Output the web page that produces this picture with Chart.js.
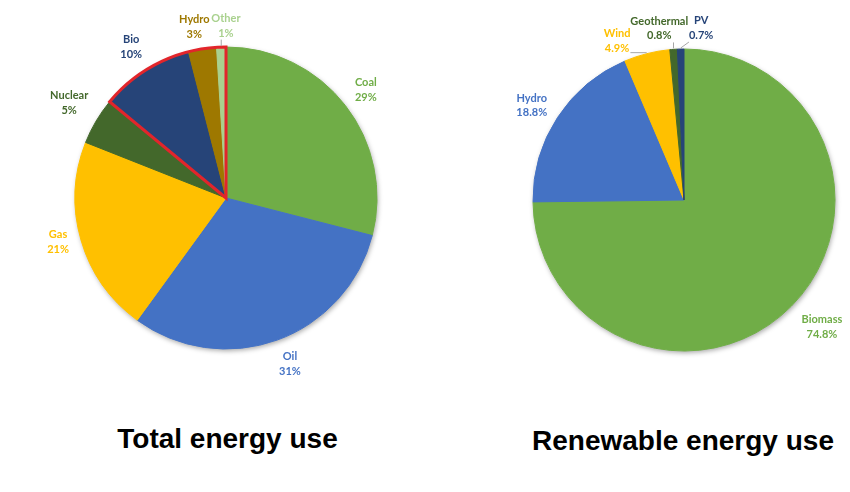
<!DOCTYPE html>
<html>
<head>
<meta charset="utf-8">
<script src="https://cdn.jsdelivr.net/npm/chart.js@4"></script>
<style>
body { margin: 0; background: #fff; width: 850px; height: 492px; position: relative; overflow: hidden; }
#wrapL { position: absolute; left: 0; top: 0; width: 450px; height: 400px; }
#wrapR { position: absolute; left: 450px; top: 0; width: 400px; height: 400px; }
.title { position: absolute; font-family: "Liberation Sans", Arial, sans-serif; font-weight: bold; font-size: 28px; line-height: 28px; color: #000; white-space: nowrap; }
</style>
</head>
<body>
<div id="wrapL"><canvas id="total_chart"></canvas></div>
<div id="wrapR"><canvas id="renew_chart"></canvas></div>
<div class="title" style="left:227.5px; top:425px; transform: translateX(-50%);">Total energy use</div>
<div class="title" style="left:683px; top:427px; transform: translateX(-50%);">Renewable energy use</div>
<script>
const total_labels = ['Coal', 'Oil', 'Gas', 'Nuclear', 'Bio', 'Hydro', 'Other']
const total_values = [29, 31, 21, 5, 10, 3, 1]
const total_colors = ['#70AD47', '#4472C4', '#FFC000', '#43682B', '#264478', '#9E7800', '#A9D18E']

const renew_labels = ['Biomass', 'Hydro', 'Wind', 'Geothermal', 'PV']
const renew_values = [74.8, 18.8, 4.9, 0.8, 0.7]
const renew_colors = ['#70AD47', '#4472C4', '#FFC000', '#43682B', '#264478']

// shadow under the pie, data labels with leader lines, red outline round the renewables
const pie_extras = {
    id: 'pie_extras',
    beforeDatasetsDraw(chart) {
        const arc = chart.getDatasetMeta(0).data[0]
        const ctx = chart.ctx
        ctx.save()
        ctx.shadowColor = 'rgba(0,0,0,0.35)'
        ctx.shadowBlur = 5
        ctx.shadowOffsetX = 1
        ctx.shadowOffsetY = 2
        ctx.fillStyle = '#fff'
        ctx.beginPath()
        ctx.arc(arc.x, arc.y, arc.outerRadius, 0, Math.PI * 2)
        ctx.fill()
        ctx.restore()
    },
    afterDatasetsDraw(chart, args, opts) {
        const ctx = chart.ctx
        const arcs = chart.getDatasetMeta(0).data
        const ds = chart.data.datasets[0]
        ctx.save()
        if (opts.outline) {
            const a = arcs[opts.outline[0]], b = arcs[opts.outline[1]]
            ctx.strokeStyle = '#E2252B'
            ctx.lineWidth = 3
            ctx.lineJoin = 'miter'
            ctx.beginPath()
            ctx.moveTo(a.x, a.y)
            ctx.arc(a.x, a.y, a.outerRadius, a.startAngle, b.endAngle)
            ctx.closePath()
            ctx.stroke()
        }
        ctx.font = 'bold 11px Lato, "Liberation Sans", sans-serif'
        ctx.textAlign = 'center'
        ctx.textBaseline = 'middle'
        arcs.forEach((arc, i) => {
            const mid = (arc.startAngle + arc.endAngle) / 2
            const d = arc.outerRadius + opts.dist
            const shift = opts.shift[i] || [0, 0]
            const px = arc.x + Math.cos(mid) * d + shift[0]
            const py = arc.y + Math.sin(mid) * d + shift[1]
            const name = chart.data.labels[i]
            const pct = opts.format(ds.data[i])
            if (opts.leaders.includes(i)) {
                const w = Math.max(ctx.measureText(name).width, ctx.measureText(pct).width)
                const ax = arc.x + Math.cos(mid) * (arc.outerRadius + 1)
                const ay = arc.y + Math.sin(mid) * (arc.outerRadius + 1)
                const nx = Math.min(Math.max(ax, px - w / 2), px + w / 2)
                const ny = Math.min(Math.max(ay, py - 14), py + 14)
                ctx.strokeStyle = '#A6A6A6'
                ctx.lineWidth = 1
                ctx.beginPath()
                ctx.moveTo(ax, ay)
                ctx.lineTo(nx, ny)
                ctx.stroke()
            }
            ctx.fillStyle = ds.backgroundColor[i]
            ctx.fillText(name, px, py - opts.gap / 2)
            ctx.fillText(pct, px, py + opts.gap / 2)
        })
        ctx.restore()
    }
}

const make_config = (labels, values, colors, padding, extras) => ({
    type: 'pie',
    data: {
        labels: labels,
        datasets: [{
            data: values,
            backgroundColor: colors,
            borderColor: colors,
            borderWidth: 1
        }]
    },
    options: {
        responsive: true,
        maintainAspectRatio: false,
        animation: false,
        radius: 151,
        layout: { padding: padding },
        plugins: {
            legend: { display: false },
            tooltip: { enabled: false },
            pie_extras: extras
        }
    },
    plugins: [pie_extras]
})

const total_config = make_config(total_labels, total_values, total_colors,
    { left: 75, right: 73, top: 47, bottom: 51 },
    {
        dist: 26,
        gap: 15,
        format: (v) => v + '%',
        shift: [[0, 0], [4, -1], [2, -5.5], [-4.5, -4.5], [0, -2], [-4, 3.5], [5.5, 4.5]],
        leaders: [6],
        outline: [4, 6]
    })

const renew_config = make_config(renew_labels, renew_values, renew_colors,
    { left: 83, right: 15, top: 49, bottom: 49 },
    {
        dist: 26,
        gap: 14.5,
        format: (v) => v.toFixed(1) + '%',
        shift: [[12, 2.5], [-4, 2], [-23.5, 12.5], [-12.5, 5], [21, 5]],
        leaders: [2, 3, 4],
        outline: null
    })

var total_chart = new Chart(document.getElementById('total_chart'), total_config)
var renew_chart = new Chart(document.getElementById('renew_chart'), renew_config)
</script>
</body>
</html>
